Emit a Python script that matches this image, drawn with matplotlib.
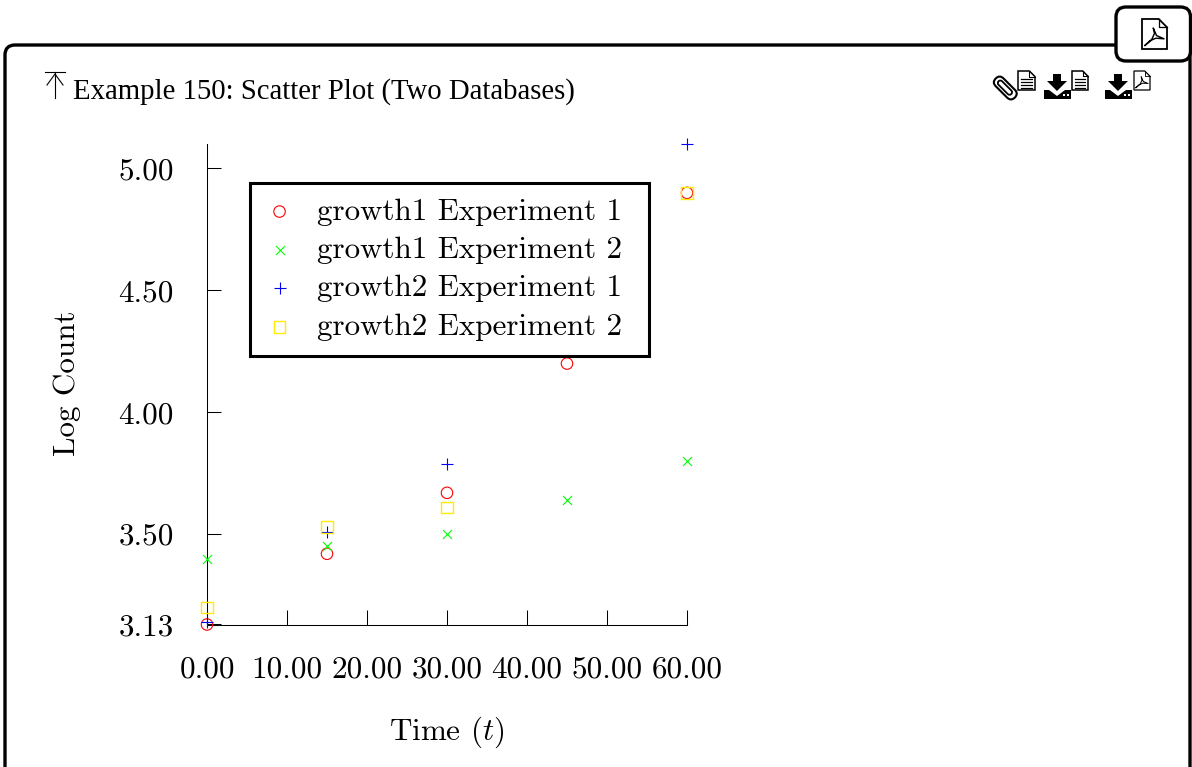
import matplotlib
matplotlib.use("Agg")
import matplotlib.pyplot as plt
from matplotlib.patches import FancyBboxPatch, Polygon, Rectangle
from matplotlib.transforms import Affine2D

plt.rcParams["mathtext.fontset"] = "cm"
plt.rcParams["axes.unicode_minus"] = False
plt.rcParams["axes.formatter.use_mathtext"] = True

W, H = 1192, 767

# data (the two points at x=45 hidden by the legend are guesses)
time_g1 = [0, 15, 30, 45, 60]
growth1_exp1 = [3.13, 3.42, 3.67, 4.20, 4.90]
growth1_exp2 = [3.40, 3.45, 3.50, 3.64, 3.80]
time_g2 = [0, 15, 30, 45, 60]
growth2_exp1 = [3.14, 3.51, 3.79, 4.45, 5.10]
growth2_exp2 = [3.20, 3.53, 3.61, 4.30, 4.90]

x_ticks = [0, 10, 20, 30, 40, 50, 60]
y_ticks = [3.13, 3.50, 4.00, 4.50, 5.00]
legend_names = ["growth1 Experiment 1", "growth1 Experiment 2",
                "growth2 Experiment 1", "growth2 Experiment 2"]

TEXT_FONT = "cmr10"
FS = 22.4

AX_LEFT, AX_TOP, AX_RIGHT, AX_BOTTOM = 207, 144.5, 687, 624.5
AX_H = AX_BOTTOM - AX_TOP
AX_W = AX_RIGHT - AX_LEFT


def px_rect(left, top, right, bottom):
    return [left / W, 1 - bottom / H, (right - left) / W, (bottom - top) / H]


def doc_icon(ov, left, top, right, bottom, lw, lines=True, pdf=False):
    fold = (right - left) * 0.33
    ov.add_patch(Polygon([(left, top), (right - fold, top), (right, top + fold),
                          (right, bottom), (left, bottom)], closed=True,
                         fc="white", ec="black", lw=lw, joinstyle="miter"))
    ov.plot([right - fold, right - fold, right], [top, top + fold, top + fold],
            color="black", lw=lw * 0.7)
    if lines:
        for frac in [0.42, 0.58, 0.74, 0.88]:
            y = top + frac * (bottom - top)
            ov.plot([left + 3, right - 3], [y, y], color="black", lw=lw * 0.8)
    if pdf:
        w = right - left
        h = bottom - top
        ov.plot([left + 0.12 * w, left + 0.38 * w, left + 0.5 * w, left + 0.45 * w, left + 0.58 * w,
                 left + 0.88 * w, left + 0.56 * w, left + 0.32 * w, left + 0.12 * w],
                [top + 0.88 * h, top + 0.7 * h, top + 0.48 * h, top + 0.3 * h, top + 0.55 * h,
                 top + 0.66 * h, top + 0.64 * h, top + 0.72 * h, top + 0.88 * h],
                color="black", lw=lw * 0.8)


def download_icon(ov, cx, top):
    ov.add_patch(Polygon([(cx - 4, top), (cx + 4, top), (cx + 4, top + 7), (cx + 10, top + 7),
                          (cx, top + 17), (cx - 10, top + 7), (cx - 4, top + 7)],
                         closed=True, fc="black", ec="none"))
    ov.add_patch(Polygon([(cx - 13, top + 16), (cx - 8, top + 16), (cx, top + 22), (cx + 8, top + 16),
                          (cx + 14, top + 16), (cx + 14, top + 25), (cx - 13, top + 25)],
                         closed=True, fc="black", ec="none"))
    for dx in (6, 10):
        ov.add_patch(Rectangle((cx + dx, top + 20), 2, 2, fc="white", ec="none"))


def clip_icon(ov):
    rot = Affine2D().rotate_deg_around(1006, 88, 45) + ov.transData
    ov.add_patch(FancyBboxPatch((992, 83), 27, 11, boxstyle="round,pad=0,rounding_size=5.5",
                                fc="none", ec="black", lw=1.5, transform=rot))
    ov.add_patch(FancyBboxPatch((996, 86), 18, 5, boxstyle="round,pad=0,rounding_size=2.5",
                                fc="none", ec="black", lw=1.3, transform=rot))


fig = plt.figure(figsize=(W / 100, H / 100), dpi=100)

# page decoration behind the chart
ov = fig.add_axes([0, 0, 1, 1], zorder=0)
ov.set_xlim(0, W)
ov.set_ylim(H, 0)
ov.axis("off")
ov.add_patch(FancyBboxPatch((5, 45), 1185, 800, boxstyle="round,pad=0,rounding_size=10",
                            fc="white", ec="black", lw=2.4))
ov.add_patch(FancyBboxPatch((1116, 7), 74.5, 54, boxstyle="round,pad=0,rounding_size=10",
                            fc="white", ec="black", lw=2.4))
ov.text(73, 99, "Example 150: Scatter Plot (Two Databases)", family="Liberation Serif",
        fontsize=20.7, va="baseline", ha="left", color="black")

# up arrow to bar next to the title
ov.plot([45, 65], [72, 72], color="black", lw=0.8)
ov.plot([55, 55], [72, 98], color="black", lw=0.8)
ov.plot([47, 55, 63], [85, 74, 85], color="black", lw=0.8)

doc_icon(ov, 1142, 19, 1167, 49, 1.3, lines=False, pdf=True)
clip_icon(ov)
doc_icon(ov, 1018, 71, 1035, 90, 1.1)
download_icon(ov, 1057, 74)
doc_icon(ov, 1072, 71, 1088, 90, 1.1)
download_icon(ov, 1118, 74)
doc_icon(ov, 1134, 71, 1150, 90, 0.9, lines=False, pdf=True)

# chart
ax = fig.add_axes(px_rect(AX_LEFT, AX_TOP, AX_RIGHT, AX_BOTTOM), zorder=1)
ax.patch.set_alpha(0)
ax.set_xlim(0, 60)
ax.set_ylim(3.13, 5.0 + 24 / 244)

ax.scatter(time_g1, growth1_exp1, marker="o", s=68, facecolors="none", edgecolors="#ff0000",
           linewidths=0.8, clip_on=False, label=legend_names[0], zorder=3)
ax.scatter(time_g1, growth1_exp2, marker="x", s=42, color="#00ff00",
           linewidths=0.8, clip_on=False, label=legend_names[1], zorder=3)
ax.scatter(time_g2, growth2_exp1, marker="+", s=80, color="#0000ff",
           linewidths=0.8, clip_on=False, label=legend_names[2], zorder=3)
ax.scatter(time_g2, growth2_exp2, marker="s", s=72, facecolors="none", edgecolors="#ffec00",
           linewidths=1.0, clip_on=False, label=legend_names[3], zorder=3)

for side in ["top", "right"]:
    ax.spines[side].set_visible(False)
for side in ["left", "bottom"]:
    ax.spines[side].set_linewidth(0.75)

ax.set_xticks(x_ticks)
ax.set_xticklabels(["%.2f" % v for v in x_ticks], family=TEXT_FONT, fontsize=FS)
ax.set_yticks(y_ticks)
ax.set_yticklabels(["%.2f" % v for v in y_ticks], family=TEXT_FONT, fontsize=FS)
ax.tick_params(axis="x", direction="in", length=10.5, width=0.75, pad=23)
ax.tick_params(axis="y", direction="in", length=10, width=0.75, pad=24)

ax.set_xlabel(r"Time ($t$)", family=TEXT_FONT, fontsize=FS)
ax.xaxis.set_label_coords(0.5, -(732 - AX_BOTTOM) / AX_H, transform=ax.transAxes)
ax.xaxis.label.set_va("center")
ax.set_ylabel("Log Count", family=TEXT_FONT, fontsize=FS)
ax.yaxis.set_label_coords(-(AX_LEFT - 67) / AX_W, (AX_BOTTOM - 383) / AX_H, transform=ax.transAxes)
ax.yaxis.label.set_va("center")

leg = ax.legend(loc="upper left",
                bbox_to_anchor=((249.5 - AX_LEFT) / AX_W, (AX_BOTTOM - 355) / AX_H, 399.5 / AX_W, 172 / AX_H),
                mode="expand", borderaxespad=0, fancybox=False, framealpha=1, edgecolor="black",
                prop={"family": TEXT_FONT, "size": FS}, labelspacing=0.34,
                handletextpad=0.71, borderpad=0.48, handlelength=0.97, scatterpoints=1)
leg.get_frame().set_linewidth(2.2)
leg.set_zorder(5)

fig.savefig("out.png", dpi=100)
